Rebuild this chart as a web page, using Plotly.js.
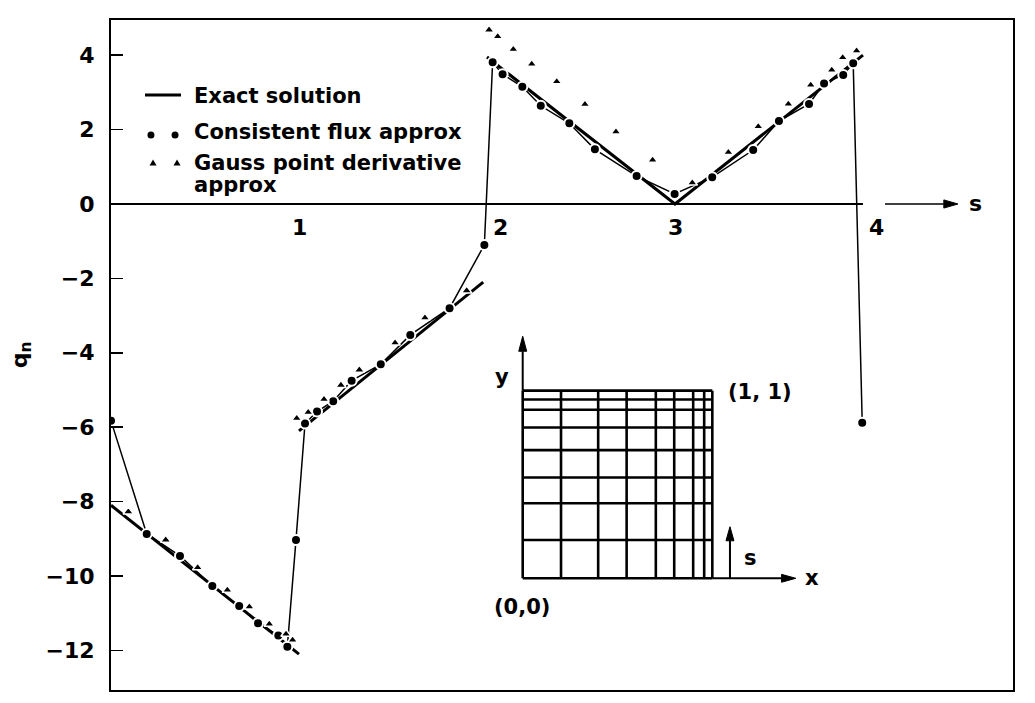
<!DOCTYPE html>
<html><head><meta charset="utf-8">
<script src="https://cdn.plot.ly/plotly-3.0.1.min.js"></script>
<style>html,body{margin:0;padding:0;background:#fff}#chart{width:1035px;height:703px}</style>
</head><body><div id="chart"></div>
<script>
// ---------- data ----------
// Exact solution: piecewise linear segments (null = break)
const exactS = [0, 1, null, 1, 1.98, null, 2, 3, 4];
const exactQ = [-8.1, -12.1, null, -6.1, -2.1, null, 3.95, 0, 4.0];

// Consistent flux approximation (dots, joined by thin line)
const fluxS = [0, 0.190, 0.367, 0.539, 0.682, 0.782, 0.890, 0.938, 0.984, 1.032, 1.096, 1.182, 1.280, 1.435, 1.592, 1.801, 1.986, 2.030, 2.083, 2.188, 2.286, 2.438, 2.574, 2.796, 2.998, 3.198, 3.416, 3.553, 3.713, 3.793, 3.895, 3.948, 3.996];
const fluxQ = [-5.83, -8.87, -9.46, -10.27, -10.81, -11.27, -11.60, -11.90, -9.03, -5.90, -5.58, -5.30, -4.75, -4.31, -3.52, -2.80, -1.10, 3.81, 3.49, 3.15, 2.64, 2.17, 1.47, 0.75, 0.27, 0.72, 1.45, 2.23, 2.69, 3.24, 3.47, 3.78, -5.88];

// Gauss point derivative approximation (triangles)
const gaussS = [0.092, 0.291, 0.461, 0.619, 0.736, 0.842, 0.931, 0.966, 0.988, 1.049, 1.133, 1.223, 1.321, 1.511, 1.670, 1.892, 2.011, 2.057, 2.140, 2.238, 2.371, 2.521, 2.686, 2.881, 3.092, 3.284, 3.443, 3.603, 3.722, 3.834, 3.892, 3.966];
const gaussQ = [-8.27, -9.03, -9.77, -10.38, -10.83, -11.29, -11.56, -11.72, -5.76, -5.60, -5.25, -4.87, -4.46, -3.73, -3.06, -2.33, 4.68, 4.50, 4.16, 3.76, 3.29, 2.68, 1.94, 1.18, 0.57, 1.39, 2.08, 2.69, 3.20, 3.60, 3.94, 4.12];

// Axis ticks
const yTickVals = [4, 2, 0, -2, -4, -6, -8, -10, -12];
const yTickText = ['4', '2', '0', '\u22122', '\u22124', '\u22126', '\u22128', '\u221210', '\u221212'];
const sTicks = [1, 2, 3, 4];

// Inset mesh (unit square, graded)
const meshX = [0, 0.202, 0.398, 0.548, 0.702, 0.799, 0.899, 0.957, 1.0];
const meshY = [0, 0.204, 0.40, 0.537, 0.683, 0.804, 0.898, 0.953, 1.0];

// Legend entries
const legendLabels = ['Exact solution', 'Consistent flux approx', 'Gauss point derivative', 'approx'];

// ---------- build ----------
const BOLD = {family: 'DejaVu Sans', size: 21, color: '#000', weight: 'bold'};

const traces = [];
traces.push({x: exactS, y: exactQ, mode: 'lines', type: 'scatter', connectgaps: false,
  line: {color: '#000', width: 3}, hoverinfo: 'skip'});
traces.push({x: fluxS, y: fluxQ, mode: 'lines+markers', type: 'scatter',
  line: {color: '#000', width: 1.5},
  marker: {symbol: 'circle', size: 10, color: '#000', line: {color: '#fff', width: 2}}, hoverinfo: 'skip'});
traces.push({x: gaussS, y: gaussQ, mode: 'markers', type: 'scatter',
  marker: {symbol: 'triangle-up', size: 9, color: '#000', line: {color: '#fff', width: 1.5}}, hoverinfo: 'skip'});

// mesh lines
const mx = [], my = [];
meshX.forEach(v => { mx.push(v, v, null); my.push(0, 1, null); });
meshY.forEach(v => { mx.push(0, 1, null); my.push(v, v, null); });
traces.push({x: mx, y: my, xaxis: 'x2', yaxis: 'y2', mode: 'lines', type: 'scatter',
  line: {color: '#000', width: 2.6}, hoverinfo: 'skip'});

const annotations = [];
// s tick labels on the zero line
sTicks.forEach(v => annotations.push({x: v, y: 0, xref: 'x', yref: 'y', text: String(v), showarrow: false,
  yshift: -24, xshift: (v === 2 || v === 4) ? 14 : 1, font: Object.assign({}, BOLD, {size: 22})}));
annotations.push({x: 4.596, y: 0, xref: 'x', yref: 'y', text: 's', showarrow: false, font: Object.assign({}, BOLD, {size: 22})});

// legend text
const legY = [0.8866, 0.8321, 0.7873, 0.753];
legendLabels.forEach((t, i) => annotations.push({x: 0.0895, y: legY[i], xref: 'paper', yref: 'paper',
  xanchor: 'left', yanchor: 'middle', text: t, showarrow: false, font: BOLD}));

// inset labels
[['y', -0.111, 1.074], ['(1, 1)', 1.252, 0.995], ['(0,0)', -0.005, -0.151], ['x', 1.525, 0.002], ['s', 1.201, 0.11]]
  .forEach(a => annotations.push({x: a[1], y: a[2], xref: 'x2', yref: 'y2', text: a[0], showarrow: false, font: BOLD}));

// shapes: zero line, arrows, legend symbols
const shapes = [];
shapes.push({type: 'line', xref: 'x', yref: 'y', x0: 0, x1: 4.0, y0: 0, y1: 0, line: {color: '#000', width: 2}});

// arrow helper: horizontal (dir 'h') or vertical ('v'), head length hl, half width hw (axis units)
function arrow(xr, yr, x0, y0, x1, y1, hl, hw, w) {
  if (y0 === y1) { // horizontal
    shapes.push({type: 'line', xref: xr, yref: yr, x0: x0, x1: x1 - hl, y0: y0, y1: y1, line: {color: '#000', width: w}});
    shapes.push({type: 'path', xref: xr, yref: yr, fillcolor: '#000', line: {color: '#000', width: 1},
      path: `M ${x1 - hl} ${y1 - hw} L ${x1} ${y1} L ${x1 - hl} ${y1 + hw} Z`});
  } else { // vertical
    shapes.push({type: 'line', xref: xr, yref: yr, x0: x0, x1: x1, y0: y0, y1: y1 - hl, line: {color: '#000', width: w}});
    shapes.push({type: 'path', xref: xr, yref: yr, fillcolor: '#000', line: {color: '#000', width: 1},
      path: `M ${x1 - hw} ${y1 - hl} L ${x1} ${y1} L ${x1 + hw} ${y1 - hl} Z`});
  }
}
arrow('x', 'y', 4.117, 0, 4.505, 0, 0.075, 0.11, 1.6);
arrow('x2', 'y2', 0, 1.0, 0, 1.29, 0.08, 0.021, 2);
arrow('x2', 'y2', 1.0, 0, 1.44, 0, 0.075, 0.021, 2);
arrow('x2', 'y2', 1.093, 0, 1.093, 0.275, 0.075, 0.021, 2);

shapes.push({type: 'line', xref: 'paper', yref: 'paper', x0: 0.0377, x1: 0.0776, y0: 0.8881, y1: 0.8881, line: {color: '#000', width: 3}});
const rx = 3.5 / 902, ry = 3.5 / 670;
[0.0443, 0.0710].forEach(cx => shapes.push({type: 'circle', xref: 'paper', yref: 'paper',
  x0: cx - rx, x1: cx + rx, y0: 0.8284 - ry, y1: 0.8284 + ry, fillcolor: '#000', line: {width: 0}}));
[0.0466, 0.0732].forEach(cx => {
  const a = 3.5 / 902, b = 2.5 / 670, c = 3.5 / 670, cy = 0.7866;
  shapes.push({type: 'path', xref: 'paper', yref: 'paper',
    path: `M ${cx - a} ${cy - b} L ${cx + a} ${cy - b} L ${cx} ${cy + c} Z`, fillcolor: '#000', line: {width: 0}});
});

const layout = {
  width: 1035, height: 703,
  margin: {l: 111, r: 22, t: 20, b: 13, pad: 0},
  paper_bgcolor: '#fff', plot_bgcolor: '#fff',
  showlegend: false,
  font: {family: 'DejaVu Sans', color: '#000'},
  xaxis: {domain: [0, 1], range: [0, 4.798], showline: true, mirror: true, linewidth: 2, linecolor: '#000',
    showgrid: false, zeroline: false, showticklabels: false, ticks: ''},
  yaxis: {domain: [0, 1], range: [-13.065, 4.946], showline: true, mirror: true, linewidth: 2, linecolor: '#000',
    showgrid: false, zeroline: false, ticks: 'inside', ticklen: 12, tickwidth: 1.5, tickcolor: '#000',
    tickvals: yTickVals, ticktext: yTickText, ticklabelstandoff: 10,
    tickfont: {family: 'DejaVu Sans', size: 22, color: '#000', weight: 'bold'},
    title: {text: 'q<sub>n</sub>', font: {family: 'DejaVu Sans', size: 22, color: '#000', weight: 'bold'}, standoff: 12}},
  xaxis2: {domain: [0.4144, 0.7928], range: [-0.2, 1.6], anchor: 'y2', visible: false},
  yaxis2: {domain: [0.0967, 0.5448], range: [-0.25, 1.35], anchor: 'x2', visible: false},
  annotations: annotations,
  shapes: shapes
};

Plotly.newPlot('chart', traces, layout, {staticPlot: true, displayModeBar: false});
</script>
</body></html>
